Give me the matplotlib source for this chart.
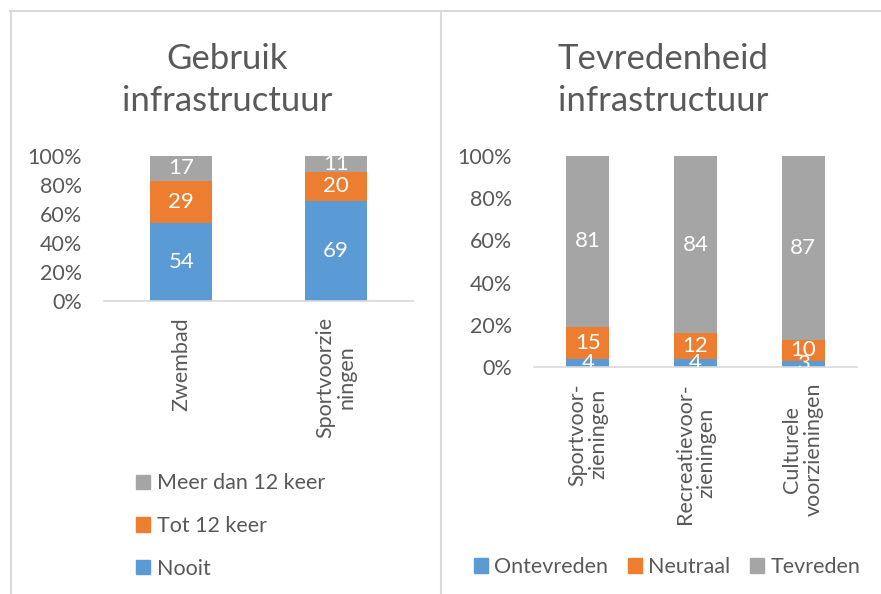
import numpy as np
import matplotlib
matplotlib.use("Agg")
import matplotlib.pyplot as plt
import matplotlib.transforms as mtransforms
from matplotlib.lines import Line2D
from matplotlib.patches import Patch

# ============================================================
# DATA
# ============================================================

gebruik_cats = ["Zwembad", "Sportvoorzie\nningen"]
gebruik_series = ["Nooit", "Tot 12 keer", "Meer dan 12 keer"]
gebruik_nooit = [54, 69]
gebruik_tot12 = [29, 20]
gebruik_meer12 = [17, 11]

tevr_cats = ["Sportvoor-\nzieningen", "Recreatievoor-\nzieningen", "Culturele\nvoorzieningen"]
tevr_series = ["Ontevreden", "Neutraal", "Tevreden"]
tevr_ontevreden = [4, 4, 3]
tevr_neutraal = [15, 12, 10]
tevr_tevreden = [81, 84, 87]

# ============================================================
# STYLE
# ============================================================

plt.rcParams['font.family'] = ['Lato', 'DejaVu Sans']

BLUE = "#5B9BD5"
ORANGE = "#ED7D31"
GREY = "#A5A5A5"
TEXT = "#595959"
LINE = "#D9D9D9"
FS = 15.5

W, H = 881, 594
fig = plt.figure(figsize=(W / 100, H / 100), dpi=100)


def px_axes(x0, x1, ytop, ybot):
    return fig.add_axes([x0 / W, (H - ybot) / H, (x1 - x0) / W, (ybot - ytop) / H])


def style_axes(ax, n):
    ax.set_xlim(-0.5, n - 0.5)
    ax.set_ylim(0, 1)
    for s in ["top", "right", "left"]:
        ax.spines[s].set_visible(False)
    ax.spines["bottom"].set_color(LINE)
    ax.spines["bottom"].set_linewidth(1.2)
    ax.tick_params(length=0, colors=TEXT, labelsize=FS)
    ax.set_yticks(np.arange(0, 1.01, 0.2))
    ax.set_yticklabels([f"{int(round(v * 100))}%" for v in np.arange(0, 1.01, 0.2)])
    ax.tick_params(axis="y", pad=16)
    ax.set_facecolor("none")


def stacked(ax, cats, series_vals, colors, fs):
    x = np.arange(len(cats))
    bottom = np.zeros(len(cats))
    for vals, col in zip(series_vals, colors):
        frac = np.array(vals) / 100.0
        ax.bar(x, frac, 0.4, bottom=bottom, color=col)
        for xi, b, f, v in zip(x, bottom, frac, vals):
            ax.text(xi, b + f / 2, str(v), ha="center", va="center",
                    color="white", fontsize=fs, clip_on=True)
        bottom = bottom + frac
    ax.set_xticks(x)
    ax.set_xticklabels([])
    # labels hang 16 px below the axis line
    trans = ax.get_xaxis_transform() + mtransforms.ScaledTranslation(0, -0.16, fig.dpi_scale_trans)
    for xi, c in zip(x, cats):
        ax.text(xi, 0, c, rotation=90, ha="center", va="top",
                multialignment="center", color=TEXT, fontsize=FS,
                transform=trans, linespacing=1.1)


# ============================================================
# PANEL 1 - GEBRUIK
# ============================================================

ax1 = px_axes(104, 413, 156, 301)
style_axes(ax1, len(gebruik_cats))
stacked(ax1, gebruik_cats, [gebruik_nooit, gebruik_tot12, gebruik_meer12],
        [BLUE, ORANGE, GREY], 16)

fig.text(227 / W, 1 - 80 / H, "Gebruik\ninfrastructuur", ha="center", va="center",
         fontsize=25, color=TEXT, linespacing=1.35)

fig.legend(
    handles=[Patch(color=GREY, label=gebruik_series[2]),
             Patch(color=ORANGE, label=gebruik_series[1]),
             Patch(color=BLUE, label=gebruik_series[0])],
    loc="center left", bbox_to_anchor=(117 / W, 1 - 526 / H),
    frameon=False, fontsize=FS, handlelength=0.65, handleheight=0.65,
    handletextpad=0.3, labelspacing=1.05, labelcolor=TEXT)

# ============================================================
# PANEL 2 - TEVREDENHEID
# ============================================================

ax2 = px_axes(534, 857, 156, 367)
style_axes(ax2, len(tevr_cats))
stacked(ax2, tevr_cats, [tevr_ontevreden, tevr_neutraal, tevr_tevreden],
        [BLUE, ORANGE, GREY], 16)

fig.text(663 / W, 1 - 80 / H, "Tevredenheid\ninfrastructuur", ha="center", va="center",
         fontsize=25, color=TEXT, linespacing=1.35)

fig.legend(
    handles=[Patch(color=BLUE, label=tevr_series[0]),
             Patch(color=ORANGE, label=tevr_series[1]),
             Patch(color=GREY, label=tevr_series[2])],
    loc="center", bbox_to_anchor=(667 / W, 1 - 567 / H), ncol=3,
    frameon=False, fontsize=FS, handlelength=0.65, handleheight=0.65,
    handletextpad=0.3, columnspacing=0.9, labelcolor=TEXT)

# ============================================================
# BORDERS
# ============================================================

for xs, ys in [([10, 881], [11, 11]), ([11, 11], [11, 594]), ([441, 441], [11, 594])]:
    fig.add_artist(Line2D([x / W for x in xs], [1 - y / H for y in ys],
                          color=LINE, linewidth=1.5))

fig.savefig("out.png", dpi=100)
